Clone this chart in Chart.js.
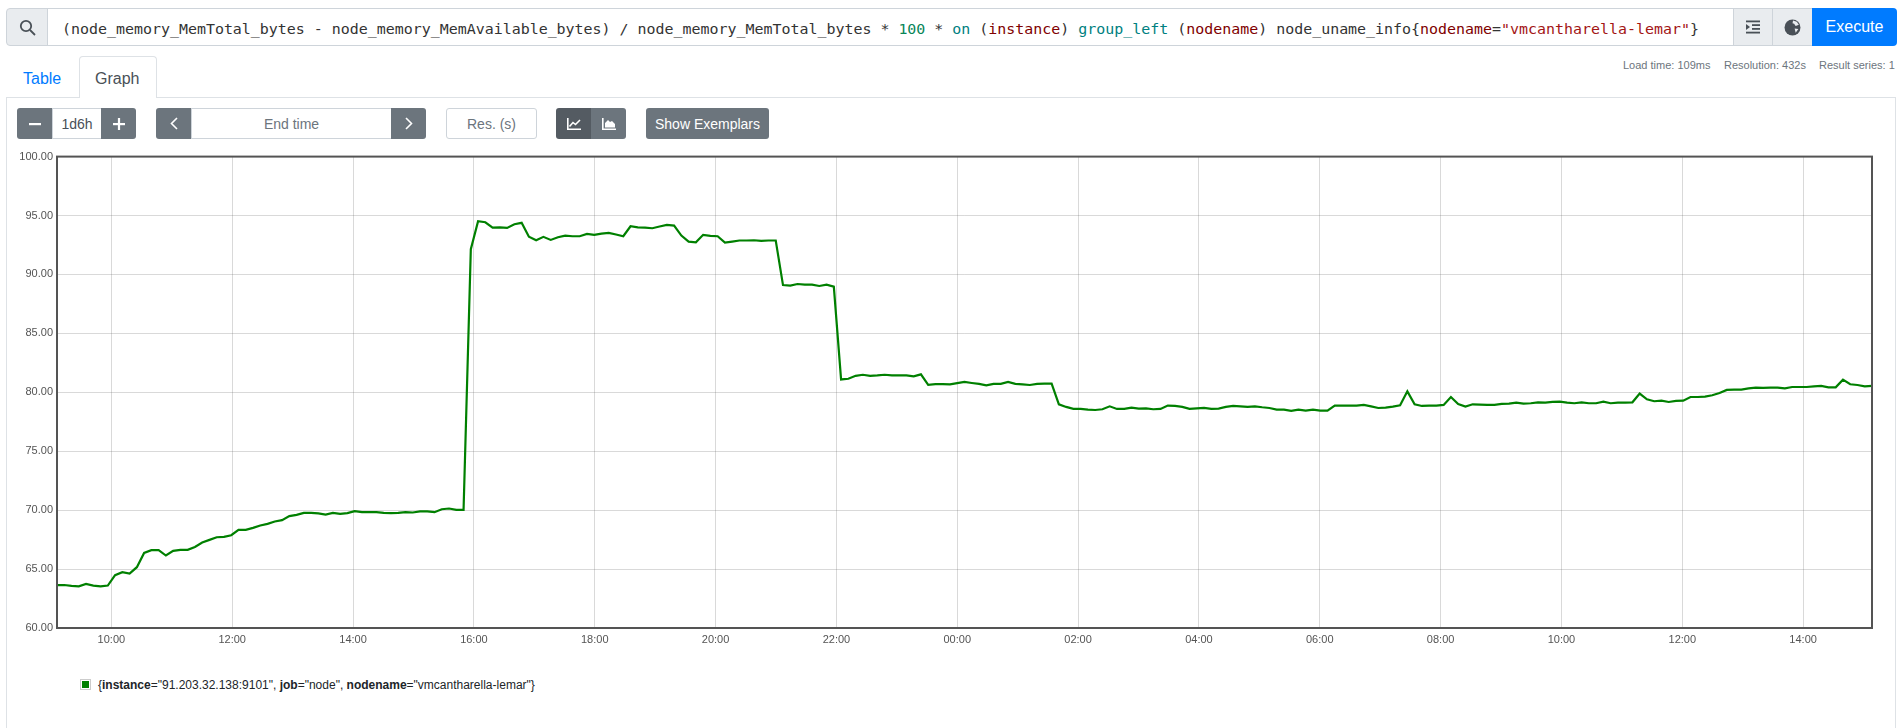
<!DOCTYPE html>
<html>
<head>
<meta charset="utf-8">
<title>Prometheus graph</title>
<script src="https://cdn.jsdelivr.net/npm/chart.js@4/dist/chart.umd.min.js"></script>
<style>
  html, body { margin: 0; padding: 0; background: #fff; overflow: hidden; }
  body { width: 1899px; height: 728px; position: relative; font-family: "Liberation Sans", Arial, sans-serif; color: #212529; }
  .abs { position: absolute; box-sizing: border-box; }
  .btn { display: flex; align-items: center; justify-content: center; background: #6c757d; color: #fff; font-size: 14px; }
  .btn.dark { background: #545b62; }
  .field { display: flex; align-items: center; justify-content: center; background: #fff; border: 1px solid #ced4da; color: #6c757d; font-size: 14px; }
  .addon { display: flex; align-items: center; justify-content: center; background: #e9ecef; border: 1px solid #ced4da; }
  .stat { font-size: 11px; color: #6c757d; white-space: nowrap; line-height: 14px; }
  #query { font-family: "DejaVu Sans Mono", monospace; font-size: 14.95px; color: #333; white-space: pre; line-height: 20px; }
  #query .num { color: #098658; }
  #query .kw { color: #008080; }
  #query .lbl { color: #800000; }
  #query .str { color: #a31515; }
  svg { display: block; }
</style>
</head>
<body>

<!-- query bar -->
<div class="abs addon" style="left:6px;top:8px;width:42px;height:38px;border-radius:4px 0 0 4px;">
  <svg width="17" height="17" viewBox="0 0 17 17" fill="none" stroke="#495057" stroke-width="1.8"><circle cx="7" cy="7" r="5.2"/><path d="M11 11l5 5"/></svg>
</div>
<div class="abs" style="left:47px;top:8px;width:1687px;height:38px;border:1px solid #ced4da;border-left:0;"></div>
<div class="abs" id="query" style="left:62px;top:19px;"></div>
<div class="abs addon" style="left:1733px;top:8px;width:40px;height:38px;">
  <svg width="16" height="16" viewBox="0 0 16 16" fill="#495057"><rect x="1" y="1.5" width="14" height="1.8"/><rect x="7" y="5.2" width="8" height="1.8"/><rect x="7" y="9" width="8" height="1.8"/><rect x="1" y="12.7" width="14" height="1.8"/><path d="M1 5l4 3-4 3z"/></svg>
</div>
<div class="abs addon" style="left:1772px;top:8px;width:41px;height:38px;">
  <svg width="17" height="17" viewBox="0 0 16 16"><circle cx="8" cy="8" r="7.5" fill="#495057"/><path d="M8.5 1.5l3.5 1 2 3-3 1-1.5-2-1.5-.5zM10 9l3.5.5-2.5 3.5z" fill="#e9ecef"/></svg>
</div>
<div class="abs btn" style="left:1812px;top:8px;width:85px;height:38px;background:#007bff;font-size:16px;border-radius:0 4px 4px 0;">Execute</div>

<!-- tabs -->
<div class="abs" style="left:6px;top:97px;width:1890px;height:640px;border:1px solid #dee2e6;"></div>
<div class="abs" style="left:79px;top:56px;width:78px;height:42px;background:#fff;border:1px solid #dee2e6;border-bottom:0;border-radius:4px 4px 0 0;"></div>
<div class="abs" style="left:23px;top:70px;font-size:16px;line-height:18px;color:#007bff;">Table</div>
<div class="abs" style="left:95px;top:70px;font-size:16px;line-height:18px;color:#495057;">Graph</div>
<div class="abs stat" style="left:1623px;top:58px;">Load time: 109ms</div>
<div class="abs stat" style="left:1724px;top:58px;">Resolution: 432s</div>
<div class="abs stat" style="left:1819px;top:58px;">Result series: 1</div>

<!-- graph controls -->
<div class="abs btn" style="left:17px;top:108px;width:36px;height:31px;border-radius:3px 0 0 3px;">
  <svg width="12" height="12" viewBox="0 0 12 12"><rect x="0" y="5" width="12" height="2.2" fill="#fff"/></svg>
</div>
<div class="abs field" style="left:52px;top:108px;width:50px;height:31px;color:#495057;">1d6h</div>
<div class="abs btn" style="left:101px;top:108px;width:35px;height:31px;border-radius:0 3px 3px 0;">
  <svg width="12" height="12" viewBox="0 0 12 12" fill="#fff"><rect x="0" y="5" width="12" height="2.2"/><rect x="4.9" y="0" width="2.2" height="12"/></svg>
</div>
<div class="abs btn" style="left:156px;top:108px;width:36px;height:31px;border-radius:3px 0 0 3px;">
  <svg width="8" height="13" viewBox="0 0 8 13" fill="none" stroke="#fff" stroke-width="1.6"><path d="M7 1L1.5 6.5 7 12"/></svg>
</div>
<div class="abs field" style="left:191px;top:108px;width:201px;height:31px;">End time</div>
<div class="abs btn" style="left:391px;top:108px;width:35px;height:31px;border-radius:0 3px 3px 0;">
  <svg width="8" height="13" viewBox="0 0 8 13" fill="none" stroke="#fff" stroke-width="1.6"><path d="M1 1l5.5 5.5L1 12"/></svg>
</div>
<div class="abs field" style="left:446px;top:108px;width:91px;height:31px;border-radius:3px;">Res. (s)</div>
<div class="abs btn dark" style="left:556px;top:108px;width:36px;height:31px;border-radius:3px 0 0 3px;">
  <svg width="14" height="12" viewBox="0 0 14 12" fill="none" stroke="#fff" stroke-width="1.6"><path d="M.8 0v11.2H14"/><path d="M2.5 8.5l3.5-4 2.5 2L13 2"/></svg>
</div>
<div class="abs btn" style="left:591px;top:108px;width:35px;height:31px;border-radius:0 3px 3px 0;">
  <svg width="14" height="12" viewBox="0 0 14 12" fill="#fff"><path d="M.8 0v11.2H14" fill="none" stroke="#fff" stroke-width="1.6"/><path d="M3 9.5V5l3-3 2 2 2-1 3 3v3.5z"/></svg>
</div>
<div class="abs btn" style="left:646px;top:108px;width:123px;height:31px;border-radius:3px;">Show Exemplars</div>

<!-- chart -->
<div class="abs" style="left:0;top:146px;width:1899px;height:519px;"><canvas id="graph"></canvas></div>

<!-- legend -->
<div class="abs" style="left:80px;top:679px;width:11px;height:11px;border:1px solid #ccc;padding:1px;"><div id="swatch" style="width:7px;height:7px;"></div></div>
<div class="abs" id="legendText" style="left:98px;top:678px;font-size:12px;line-height:14px;white-space:nowrap;"></div>

<script>
// hours since midnight of the first day, one sample per resolution step
const startHour = 9.1;
const endHour = 39.14;
const yTicks = [60, 65, 70, 75, 80, 85, 90, 95, 100];
const xTickHours = [10, 12, 14, 16, 18, 20, 22, 24, 26, 28, 30, 32, 34, 36, 38];
const seriesColor = "#008000";
const queryParts = [
  ["", "(node_memory_MemTotal_bytes - node_memory_MemAvailable_bytes) / node_memory_MemTotal_bytes * "],
  ["num", "100"], ["", " * "], ["kw", "on"], ["", " ("], ["lbl", "instance"], ["", ") "],
  ["kw", "group_left"], ["", " ("], ["lbl", "nodename"], ["", ") node_uname_info{"],
  ["lbl", "nodename"], ["", "="], ["str", "\"vmcantharella-lemar\""], ["", "}"],
];
const memoryUsage = [
  63.63, 63.65, 63.57, 63.54, 63.74, 63.60, 63.54, 63.60, 64.48, 64.73,
  64.62, 65.16, 66.37, 66.60, 66.60, 66.15, 66.54, 66.63, 66.63, 66.88,
  67.25, 67.48, 67.70, 67.73, 67.87, 68.33, 68.33, 68.50, 68.70, 68.84,
  69.04, 69.15, 69.49, 69.60, 69.77, 69.77, 69.72, 69.63, 69.77, 69.69,
  69.75, 69.92, 69.83, 69.83, 69.83, 69.77, 69.75, 69.77, 69.83, 69.80,
  69.89, 69.89, 69.83, 70.08, 70.14, 70.03, 70.03, 92.15, 94.52, 94.43,
  93.98, 94.00, 93.95, 94.26, 94.38, 93.20, 92.90, 93.19, 92.93, 93.16,
  93.30, 93.24, 93.24, 93.44, 93.36, 93.47, 93.53, 93.39, 93.24, 94.09,
  94.00, 93.98, 93.92, 94.07, 94.20, 94.15, 93.30, 92.79, 92.73, 93.36,
  93.27, 93.24, 92.70, 92.79, 92.88, 92.88, 92.90, 92.85, 92.88, 92.88,
  89.10, 89.05, 89.19, 89.14, 89.14, 89.02, 89.14, 88.97, 81.09, 81.15,
  81.40, 81.49, 81.40, 81.43, 81.49, 81.43, 81.43, 81.43, 81.35, 81.52,
  80.64, 80.69, 80.69, 80.67, 80.78, 80.88, 80.79, 80.71, 80.59, 80.71,
  80.71, 80.88, 80.71, 80.68, 80.62, 80.71, 80.73, 80.73, 78.98, 78.76,
  78.59, 78.59, 78.53, 78.50, 78.56, 78.81, 78.59, 78.59, 78.70, 78.62,
  78.64, 78.56, 78.59, 78.87, 78.84, 78.76, 78.59, 78.64, 78.67, 78.59,
  78.62, 78.76, 78.84, 78.81, 78.76, 78.81, 78.73, 78.67, 78.53, 78.53,
  78.42, 78.53, 78.45, 78.53, 78.45, 78.45, 78.87, 78.87, 78.87, 78.87,
  78.93, 78.81, 78.67, 78.70, 78.79, 78.90, 80.08, 78.98, 78.84, 78.87,
  78.87, 78.93, 79.60, 79.01, 78.79, 78.98, 78.95, 78.93, 78.93, 79.01,
  79.04, 79.12, 79.04, 79.07, 79.15, 79.12, 79.18, 79.21, 79.12, 79.07,
  79.15, 79.07, 79.07, 79.21, 79.07, 79.12, 79.12, 79.15, 79.89, 79.41,
  79.24, 79.29, 79.18, 79.27, 79.29, 79.60, 79.60, 79.63, 79.75, 79.94,
  80.20, 80.23, 80.23, 80.34, 80.40, 80.37, 80.40, 80.40, 80.34, 80.45,
  80.45, 80.45, 80.51, 80.54, 80.42, 80.42, 81.07, 80.68, 80.62, 80.51,
  80.54,
];

document.getElementById("query").innerHTML = queryParts
  .map(([cls, text]) => `<span class="${cls}">${text.replace(/</g, "&lt;")}</span>`)
  .join("");
document.getElementById("swatch").style.background = seriesColor;
document.getElementById("legendText").innerHTML =
  '{<b>instance</b>="91.203.32.138:9101", <b>job</b>="node", <b>nodename</b>="vmcantharella-lemar"}';

const step = (endHour - startHour) / (memoryUsage.length - 1);
const points = memoryUsage.map((v, i) => ({ x: startHour + i * step, y: v }));

// flot style frame round the whole plot
const frame = {
  id: "frame",
  afterDatasetsDraw(chart) {
    const { ctx, chartArea: a } = chart;
    ctx.save();
    ctx.strokeStyle = "#545454";
    ctx.lineWidth = 2;
    ctx.strokeRect(a.left, a.top, a.right - a.left, a.bottom - a.top);
    ctx.restore();
  },
};

const tickFont = { family: "'Liberation Sans', Arial, sans-serif", size: 11 };

new Chart(document.getElementById("graph").getContext("2d"), {
  type: "line",
  data: {
    datasets: [
      {
        data: points,
        borderColor: seriesColor,
        borderWidth: 2.2,
        pointRadius: 0,
        tension: 0,
        fill: false,
      },
    ],
  },
  options: {
    responsive: true,
    maintainAspectRatio: false,
    animation: false,
    layout: { padding: { top: 7, right: 27, left: 0, bottom: 0 } },
    plugins: { legend: { display: false }, tooltip: { enabled: false } },
    scales: {
      x: {
        type: "linear",
        min: startHour,
        max: endHour,
        afterBuildTicks: (axis) => {
          axis.ticks = xTickHours.map((value) => ({ value }));
        },
        afterFit: (axis) => {
          axis.height = 37;
        },
        grid: { color: "rgba(84,84,84,0.22)", drawTicks: false, lineWidth: 1 },
        border: { display: false },
        ticks: {
          font: tickFont,
          color: "#545454",
          padding: 5,
          maxRotation: 0,
          autoSkip: false,
          callback: (v) => String(v % 24).padStart(2, "0") + ":00",
        },
      },
      y: {
        min: 60,
        max: 100,
        afterBuildTicks: (axis) => {
          axis.ticks = yTicks.map((value) => ({ value }));
        },
        afterFit: (axis) => {
          axis.width = 57;
        },
        grid: { color: "rgba(84,84,84,0.22)", drawTicks: false, lineWidth: 1 },
        border: { display: false },
        ticks: {
          font: tickFont,
          color: "#545454",
          padding: 4,
          autoSkip: false,
          callback: (v) => v.toFixed(2),
        },
      },
    },
  },
  plugins: [frame],
});
</script>
</body>
</html>
